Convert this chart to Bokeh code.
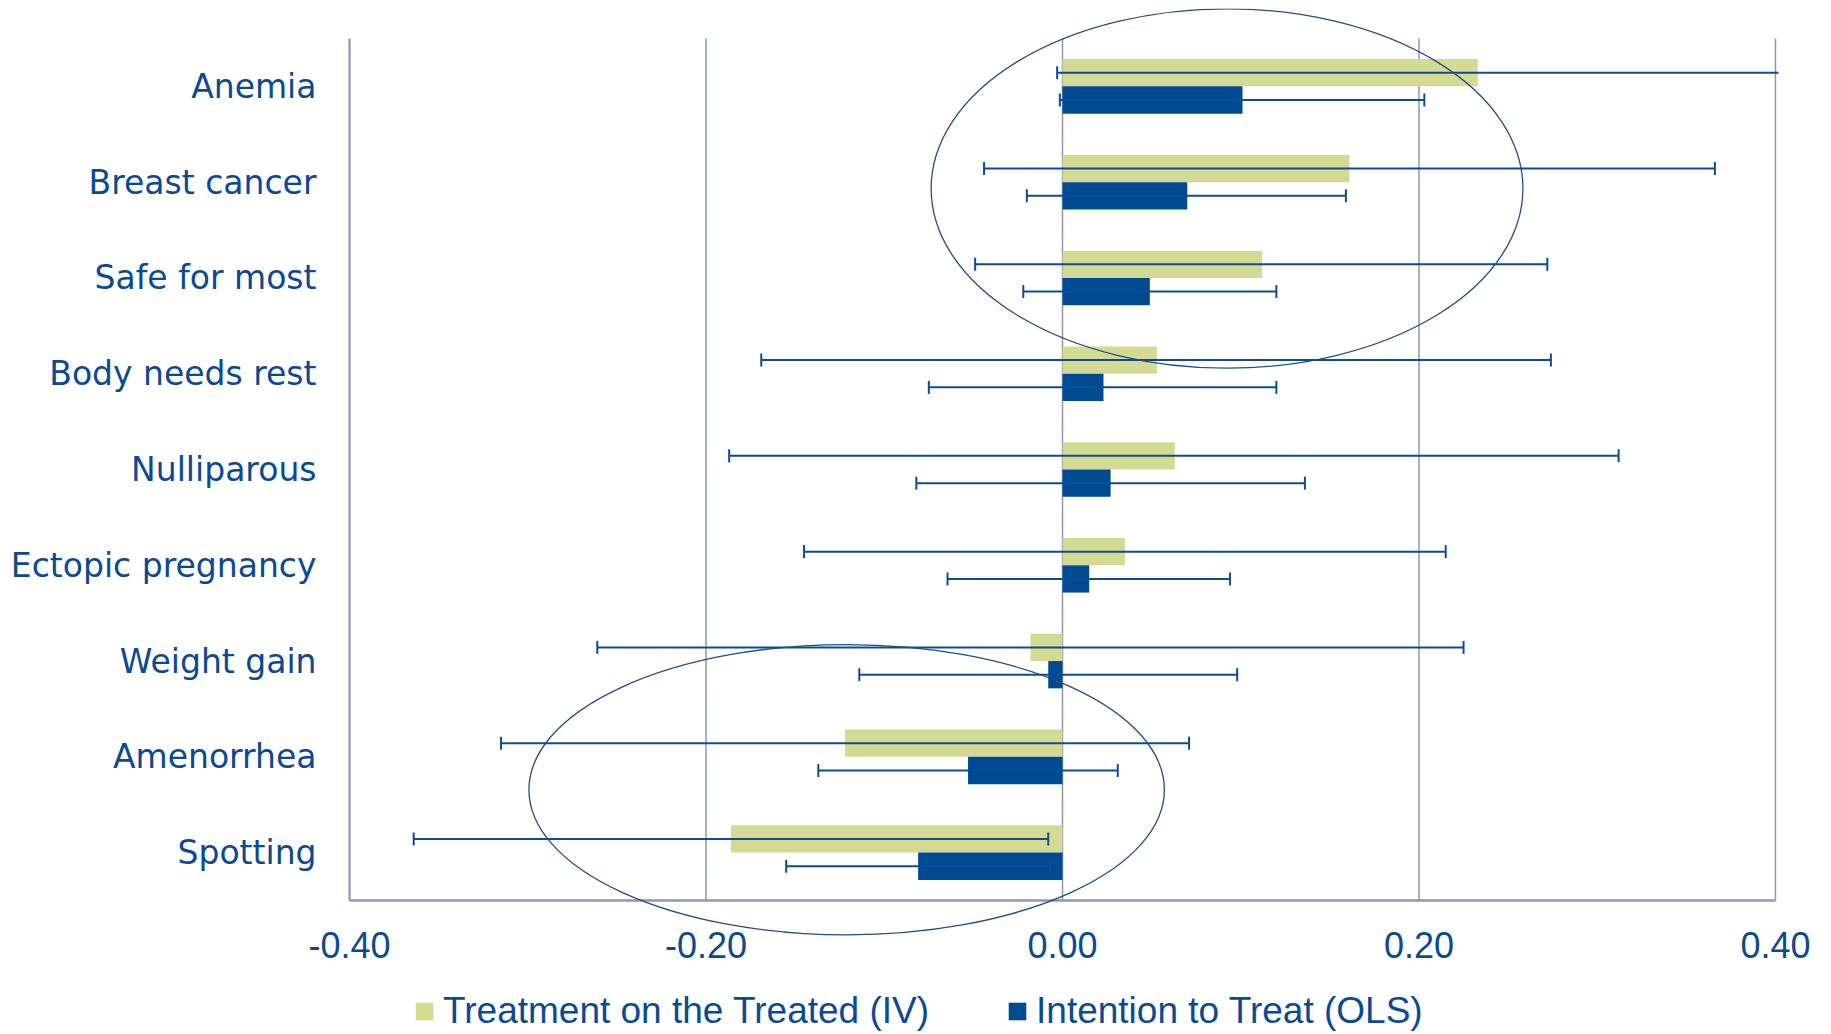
import numpy as np
from bokeh.plotting import figure
from bokeh.models import (ColumnDataSource, Range1d, FixedTicker, Legend, LegendItem)
from bokeh.embed import file_html
from bokeh.resources import INLINE

# ---------------- data ----------------
categories = ["Anemia", "Breast cancer", "Safe for most", "Body needs rest",
              "Nulliparous", "Ectopic pregnancy", "Weight gain", "Amenorrhea", "Spotting"]

tot_value = [0.233, 0.161, 0.112, 0.053, 0.063, 0.035, -0.018, -0.122, -0.186]
tot_low   = [-0.003, -0.044, -0.049, -0.169, -0.187, -0.145, -0.261, -0.315, -0.364]
tot_high  = [0.470, 0.366, 0.272, 0.274, 0.312, 0.215, 0.225, 0.071, -0.008]

itt_value = [0.101, 0.070, 0.049, 0.023, 0.027, 0.015, -0.008, -0.053, -0.081]
itt_low   = [-0.0015, -0.020, -0.022, -0.075, -0.082, -0.0645, -0.114, -0.137, -0.155]
itt_high  = [0.203, 0.159, 0.120, 0.120, 0.136, 0.094, 0.098, 0.031, -0.007]

x_ticks = [-0.4, -0.2, 0.0, 0.2, 0.4]
x_tick_labels = ["-0.40", "-0.20", "0.00", "0.20", "0.40"]

series_names = ["Treatment on the Treated (IV)", "Intention to Treat (OLS)"]

# highlight ellipses (annotations)
ell_x = [0.0923, -0.1211]
ell_y = [7.434, 1.157]
ell_w = [0.332, 0.3565]
ell_h = [3.752, 3.031]

# ---------------- style ----------------
GREEN = "#d4da92"
BLUE = "#004a91"
ERR = "#0d4c95"
GRID = "#8c97b8"
TEXT = "#0b4a92"
BAR_H = 0.285

n = len(categories)
centers = [n - 1 - i + 0.5 for i in range(n)]
y_tot = [c + BAR_H / 2 for c in centers]
y_itt = [c - BAR_H / 2 for c in centers]

src_tot = ColumnDataSource(dict(y=y_tot, v=tot_value, lo=tot_low, hi=tot_high))
src_itt = ColumnDataSource(dict(y=y_itt, v=itt_value, lo=itt_low, hi=itt_high))

p = figure(frame_width=1432, frame_height=1024,
           x_range=Range1d(-0.4017, 0.4017), y_range=Range1d(-1.378, 9.313),
           output_backend="svg", toolbar_location=None,
           min_border_left=346, min_border_right=37, min_border_top=8, min_border_bottom=0)
p.outline_line_color = None
p.xgrid.visible = False
p.ygrid.visible = False
p.background_fill_color = "white"

# gridlines + axis lines
grid_x = [t for t in x_ticks if t != x_ticks[0]]
p.segment(x0=grid_x, y0=[0] * len(grid_x), x1=grid_x, y1=[n] * len(grid_x),
          line_color=GRID, line_width=1.5)
p.segment(x0=[x_ticks[0]], y0=[0], x1=[x_ticks[0]], y1=[n], line_color=GRID, line_width=2.2)
p.segment(x0=[x_ticks[0]], y0=[0], x1=[x_ticks[-1]], y1=[0], line_color=GRID, line_width=2.5)

# bars
r_tot = p.hbar(y="y", left=0, right="v", height=BAR_H, source=src_tot,
               fill_color=GREEN, line_color=None)
r_itt = p.hbar(y="y", left=0, right="v", height=BAR_H, source=src_itt,
               fill_color=BLUE, line_color=None)

# error bars
for src in (src_tot, src_itt):
    p.segment(x0="lo", y0="y", x1="hi", y1="y", source=src, line_color=ERR, line_width=2)
    p.scatter(x="lo", y="y", source=src, marker="dash", angle=np.pi / 2, size=13,
              line_color=ERR, line_width=2)
    p.scatter(x="hi", y="y", source=src, marker="dash", angle=np.pi / 2, size=13,
              line_color=ERR, line_width=2)

# ellipses
p.ellipse(x=ell_x, y=ell_y, width=ell_w, height=ell_h, fill_color=None,
          line_color="#1d4f8e", line_width=1.3)

# x axis (labels pulled up just under the y=0 baseline)
xa = p.xaxis[0]
xa.ticker = FixedTicker(ticks=x_ticks)
xa.major_label_overrides = {t: l for t, l in zip(x_ticks, x_tick_labels)}
xa.axis_line_color = None
xa.major_tick_line_color = None
xa.minor_tick_line_color = None
xa.major_tick_out = 0
xa.major_label_standoff = -101
xa.major_label_text_font = "Liberation Sans"
xa.major_label_text_font_size = "36px"
xa.major_label_text_color = TEXT

# y axis
ya = p.yaxis[0]
ya.ticker = FixedTicker(ticks=centers)
ya.major_label_overrides = {c: name for c, name in zip(centers, categories)}
ya.axis_line_color = None
ya.major_tick_line_color = None
ya.minor_tick_line_color = None
ya.major_tick_out = 0
ya.major_label_standoff = 30
ya.major_label_text_font = "DejaVu Sans"
ya.major_label_text_font_size = "33px"
ya.major_label_text_color = TEXT

legend = Legend(items=[LegendItem(label=series_names[0], renderers=[r_tot]),
                       LegendItem(label=series_names[1], renderers=[r_itt])],
                orientation="horizontal", location=(67, 0),
                glyph_width=22, glyph_height=22, label_standoff=8, spacing=77,
                padding=0, margin=0, border_line_color=None, background_fill_alpha=0,
                label_text_font="Liberation Sans", label_text_font_size="37px",
                label_text_color=TEXT)
p.add_layout(legend, "center")

open("out.html", "w").write(file_html(p, INLINE))
